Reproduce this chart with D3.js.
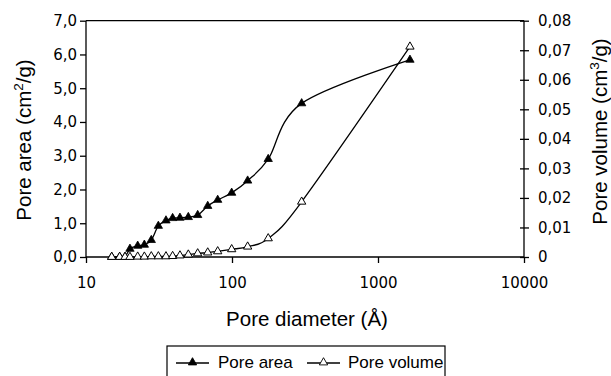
<!DOCTYPE html>
<html>
<head>
<meta charset="utf-8">
<script src="https://cdn.jsdelivr.net/npm/d3@7"></script>
<style>
  body { margin: 0; background: #fff; }
  svg { display: block; }
  .tick text { font-family: "DejaVu Sans", Verdana, sans-serif; font-size: 15px; fill: #000; }
  .title { font-family: "Liberation Sans", Arial, sans-serif; font-size: 20.5px; fill: #000; }
  .legend text { font-family: "Liberation Sans", Arial, sans-serif; font-size: 17px; fill: #000; }
</style>
</head>
<body>
<div id="chart"></div>
<script>
// pore diameter (Å)
const diameters = [15, 17, 18.5, 20, 22.6, 25.1, 28, 31.3, 35.3, 39.2, 44, 50.2, 58.2, 68.2, 79.8, 99.5, 128, 177, 300, 1655];
// pore area (cm2/g)
const poreArea = [0, 0, 0, 0.24, 0.33, 0.36, 0.5, 0.92, 1.08, 1.15, 1.16, 1.18, 1.24, 1.51, 1.69, 1.9, 2.26, 2.9, 4.55, 5.84];
// pore volume (cm3/g)
const poreVolume = [0, 0, 0, 0, 0.0001, 0.0001, 0.0002, 0.0002, 0.0002, 0.0003, 0.0005, 0.0008, 0.0012, 0.0015, 0.0019, 0.0026, 0.0035, 0.0063, 0.0187, 0.0712];

const xTicks = [10, 100, 1000, 10000];
const areaTicks = [0, 1, 2, 3, 4, 5, 6, 7];
const volTicks = [0, 0.01, 0.02, 0.03, 0.04, 0.05, 0.06, 0.07, 0.08];

const margin = {top: 20.7, right: 87, bottom: 119, left: 86},
  width = 611 - margin.left - margin.right,
  height = 376 - margin.top - margin.bottom;

const svg = d3.select("#chart")
  .append("svg")
  .attr("width", 611)
  .attr("height", 376)
  .append("g")
  .attr("transform", "translate(" + margin.left + "," + margin.top + ")");

const x = d3.scaleLog().domain([10, 10000]).range([0, width]);
const yArea = d3.scaleLinear().domain([0, 7]).range([height, 0]);
const yVol = d3.scaleLinear().domain([0, 0.08]).range([height, 0]);

const comma = d => d3.format(".1f")(d).replace(".", ",");
const commaVol = d => d === 0 ? "0" : d3.format(".2f")(d).replace(".", ",");

// top border
svg.append("line")
  .attr("x1", 0).attr("x2", width).attr("y1", 0).attr("y2", 0)
  .attr("stroke", "#000").attr("stroke-width", 1.3);

// X axis
const xAxis = svg.append("g")
  .attr("transform", `translate(0, ${height})`)
  .call(d3.axisBottom(x).tickValues(xTicks).tickFormat(d3.format("d")).tickSize(6).tickPadding(14));

// left axis
const yAxisL = svg.append("g")
  .call(d3.axisLeft(yArea).tickValues(areaTicks).tickFormat(comma).tickSize(6).tickPadding(3));

// right axis, ticks cross the line
const yAxisR = svg.append("g")
  .attr("transform", `translate(${width}, 0)`)
  .call(d3.axisRight(yVol).tickValues(volTicks).tickFormat(commaVol).tickSize(5).tickPadding(9));
yAxisR.selectAll(".tick line").attr("x1", -4);

[xAxis, yAxisL, yAxisR].forEach(a => {
  a.select(".domain").attr("stroke", "#000").attr("stroke-width", 1.3);
  a.selectAll(".tick line").attr("stroke", "#000").attr("stroke-width", 1.3);
});
xAxis.selectAll(".domain").attr("d", `M0,0H${width}`);
yAxisL.selectAll(".domain").attr("d", `M0,${height}V0`);
yAxisR.selectAll(".domain").attr("d", `M0,${height}V0`);

// lines
const areaPts = diameters.map((d, i) => [x(d), yArea(poreArea[i])]);
const volPts = diameters.map((d, i) => [x(d), yVol(poreVolume[i])]);
const line = d3.line().curve(d3.curveCardinal.tension(0));

svg.append("path")
  .attr("d", line(areaPts))
  .attr("fill", "none").attr("stroke", "#000").attr("stroke-width", 1.3);
svg.append("path")
  .attr("d", line(volPts))
  .attr("fill", "none").attr("stroke", "#000").attr("stroke-width", 1.3);

const tri = d3.symbol().type(d3.symbolTriangle).size(30);

svg.append("g").selectAll("path")
  .data(areaPts)
  .join("path")
  .attr("transform", d => `translate(${d[0]},${d[1]})`)
  .attr("d", tri)
  .attr("fill", "#000").attr("stroke", "#000").attr("stroke-width", 0.8);

svg.append("g").selectAll("path")
  .data(volPts)
  .join("path")
  .attr("transform", d => `translate(${d[0]},${d[1]})`)
  .attr("d", tri)
  .attr("fill", "#fff").attr("stroke", "#000").attr("stroke-width", 1);

// axis titles
svg.append("text")
  .attr("class", "title")
  .attr("text-anchor", "middle")
  .attr("x", 307 - margin.left)
  .attr("y", 326 - margin.top)
  .text("Pore diameter (Å)");

const titleL = svg.append("text")
  .attr("class", "title")
  .attr("text-anchor", "middle")
  .attr("transform", `translate(${31 - margin.left}, ${140 - margin.top}) rotate(-90)`);
titleL.append("tspan").text("Pore area (cm");
titleL.append("tspan").attr("font-size", "13.5px").attr("dy", -8).text("2");
titleL.append("tspan").attr("dy", 8).text("/g)");

const titleR = svg.append("text")
  .attr("class", "title")
  .attr("text-anchor", "middle")
  .attr("transform", `translate(${607 - margin.left}, ${131.5 - margin.top}) rotate(-90)`);
titleR.append("tspan").text("Pore volume (cm");
titleR.append("tspan").attr("font-size", "13.5px").attr("dy", -8).text("3");
titleR.append("tspan").attr("dy", 8).text("/g)");

// legend
const legend = svg.append("g")
  .attr("class", "legend")
  .attr("transform", `translate(${167 - margin.left}, ${346 - margin.top})`);
legend.append("rect")
  .attr("x", 0).attr("y", 0).attr("width", 278).attr("height", 40)
  .attr("fill", "#fff").attr("stroke", "#000").attr("stroke-width", 1.2);

const legendItems = [
  {label: "Pore area", fill: "#000", x0: 9, tx: 51},
  {label: "Pore volume", fill: "#fff", x0: 140, tx: 181}
];
legendItems.forEach(it => {
  legend.append("line")
    .attr("x1", it.x0).attr("x2", it.x0 + 33).attr("y1", 17).attr("y2", 17)
    .attr("stroke", "#000").attr("stroke-width", 1.3);
  legend.append("path")
    .attr("transform", `translate(${it.x0 + 16.5}, 16.5)`)
    .attr("d", tri)
    .attr("fill", it.fill).attr("stroke", "#000").attr("stroke-width", 0.9);
  legend.append("text")
    .attr("x", it.tx).attr("y", 21.5)
    .text(it.label);
});
</script>
</body>
</html>
